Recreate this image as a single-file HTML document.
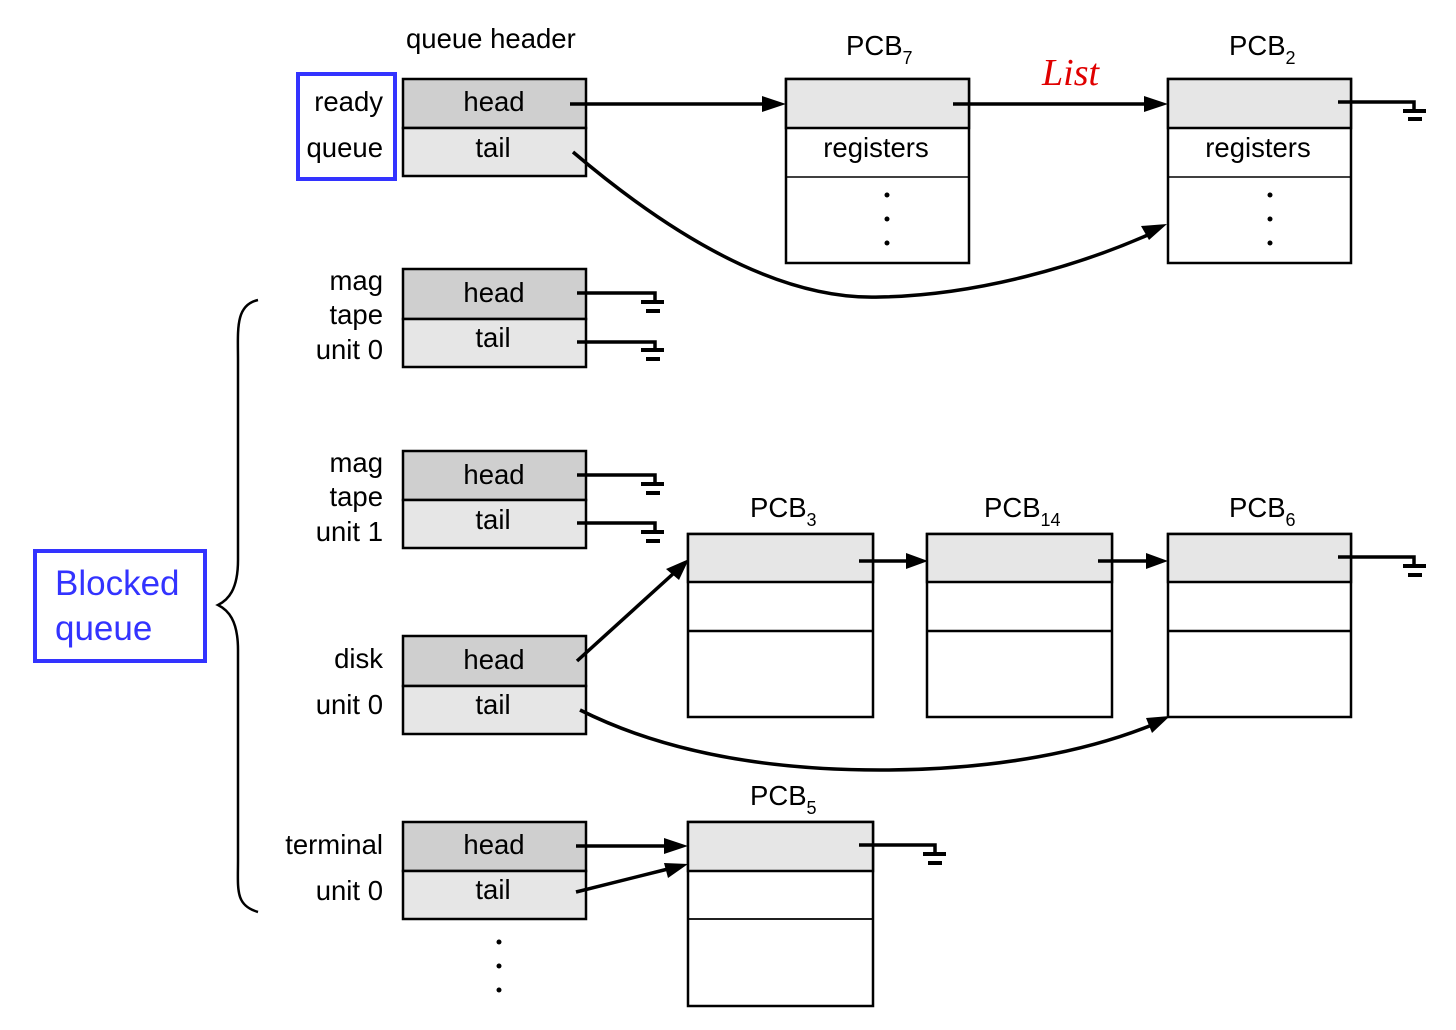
<!DOCTYPE html>
<html><head><meta charset="utf-8"><style>
html,body{margin:0;padding:0;background:#fff;}
svg{display:block;}
text{font-family:"Liberation Sans",sans-serif;font-size:27.5px;fill:#000;}
</style></head><body>
<svg width="1456" height="1030" viewBox="0 0 1456 1030" xmlns="http://www.w3.org/2000/svg">
<g stroke="#000" stroke-width="2.5">
<rect x="403" y="79" width="183" height="49" fill="#cfcfcf"/>
<rect x="403" y="128" width="183" height="48" fill="#e6e6e6"/>
<rect x="403" y="269" width="183" height="50" fill="#cfcfcf"/>
<rect x="403" y="319" width="183" height="48" fill="#e6e6e6"/>
<rect x="403" y="451" width="183" height="49" fill="#cfcfcf"/>
<rect x="403" y="500" width="183" height="48" fill="#e6e6e6"/>
<rect x="403" y="636" width="183" height="50" fill="#cfcfcf"/>
<rect x="403" y="686" width="183" height="48" fill="#e6e6e6"/>
<rect x="403" y="822" width="183" height="49" fill="#cfcfcf"/>
<rect x="403" y="871" width="183" height="48" fill="#e6e6e6"/>
<rect x="786" y="79" width="183" height="184" fill="#fff"/><rect x="786" y="79" width="183" height="49" fill="#e6e6e6"/><line x1="786" y1="177" x2="969" y2="177" stroke-width="1.5"/>
<rect x="1168" y="79" width="183" height="184" fill="#fff"/><rect x="1168" y="79" width="183" height="49" fill="#e6e6e6"/><line x1="1168" y1="177" x2="1351" y2="177" stroke-width="1.5"/>
<rect x="688" y="534" width="185" height="183" fill="#fff"/><rect x="688" y="534" width="185" height="48" fill="#e6e6e6"/><line x1="688" y1="631" x2="873" y2="631"/>
<rect x="927" y="534" width="185" height="183" fill="#fff"/><rect x="927" y="534" width="185" height="48" fill="#e6e6e6"/><line x1="927" y1="631" x2="1112" y2="631"/>
<rect x="1168" y="534" width="183" height="183" fill="#fff"/><rect x="1168" y="534" width="183" height="48" fill="#e6e6e6"/><line x1="1168" y1="631" x2="1351" y2="631"/>
<rect x="688" y="822" width="185" height="184" fill="#fff"/><rect x="688" y="822" width="185" height="49" fill="#e6e6e6"/><line x1="688" y1="919" x2="873" y2="919" stroke-width="1.8"/>
</g>
<g stroke="#000" stroke-width="3.5" fill="none">
<line x1="570" y1="104" x2="766" y2="104"/>
<line x1="953" y1="104" x2="1148" y2="104"/>
<path d="M573 152 C700 260 800 300 880 297 C980 295 1080 265 1150 234"/>
<line x1="859" y1="561" x2="910" y2="561"/>
<line x1="1098" y1="561" x2="1150" y2="561"/>
<line x1="577" y1="661" x2="674" y2="573"/>
<path d="M580 710 C660 750 760 770 880 770 C1000 770 1090 750 1152 725"/>
<line x1="576" y1="846" x2="670" y2="846"/>
<line x1="576" y1="892" x2="668" y2="869"/>
<path d="M577 293 H655 V302 M577 342 H655 V350 M577 475 H655 V484 M577 523 H655 V532 M1338 102 H1414 V110 M1338 557 H1414 V565 M859 845 H935 V853"/>
</g>
<g fill="#000">
<polygon points="786,104 762,96 762,112"/>
<polygon points="1168,104 1144,96 1144,112"/>
<polygon points="1167,224 1141,226 1149,240"/>
<polygon points="928,561 906,553 906,569"/>
<polygon points="1168,561 1146,553 1146,569"/>
<polygon points="689,559 666,569 679,580"/>
<polygon points="1170,716 1146,718 1152,733"/>
<polygon points="688,846 664,838 664,854"/>
<polygon points="688,864 664,863 668,878"/>
<rect x="641" y="300" width="23" height="4"/><rect x="646" y="309" width="14" height="4"/>
<rect x="641" y="348" width="23" height="4"/><rect x="646" y="357" width="14" height="4"/>
<rect x="641" y="482" width="23" height="4"/><rect x="646" y="491" width="14" height="4"/>
<rect x="641" y="530" width="23" height="4"/><rect x="646" y="539" width="14" height="4"/>
<rect x="1403" y="109" width="23" height="4"/><rect x="1408" y="117" width="14" height="4"/>
<rect x="1403" y="564" width="23" height="4"/><rect x="1408" y="573" width="14" height="4"/>
<rect x="923" y="852" width="23" height="4"/><rect x="928" y="861" width="14" height="4"/>
<circle cx="887" cy="195" r="2.5"/><circle cx="887" cy="219" r="2.5"/><circle cx="887" cy="243" r="2.5"/>
<circle cx="1270" cy="195" r="2.5"/><circle cx="1270" cy="219" r="2.5"/><circle cx="1270" cy="243" r="2.5"/>
<circle cx="499" cy="942" r="2.5"/><circle cx="499" cy="966" r="2.5"/><circle cx="499" cy="990" r="2.5"/>
</g>
<path d="M258 300 C235 305 238 330 238 360 V560 C238 590 228 600 218 605 C228 610 238 620 238 650 V860 C238 890 235 905 258 912" stroke="#000" stroke-width="2.5" fill="none"/>
<rect x="298" y="74" width="97" height="105" stroke="#3333ff" stroke-width="4" fill="none"/>
<rect x="35" y="551" width="170" height="110" stroke="#3333ff" stroke-width="4" fill="none"/>
<text x="55" y="595" style="fill:#3333ff;font-size:35px">Blocked</text>
<text x="55" y="640" style="fill:#3333ff;font-size:35px">queue</text>
<text x="406" y="48">queue header</text>
<text x="383" y="111" text-anchor="end">ready</text>
<text x="383" y="157" text-anchor="end">queue</text>
<g text-anchor="middle">
<text x="494" y="111">head</text><text x="493" y="157">tail</text>
<text x="494" y="302">head</text><text x="493" y="347">tail</text>
<text x="494" y="484">head</text><text x="493" y="529">tail</text>
<text x="494" y="669">head</text><text x="493" y="714">tail</text>
<text x="494" y="854">head</text><text x="493" y="899">tail</text>
<text x="876" y="157">registers</text>
<text x="1258" y="157">registers</text>
</g>
<g text-anchor="end">
<text x="383" y="290">mag</text><text x="383" y="324">tape</text><text x="383" y="359">unit 0</text>
<text x="383" y="472">mag</text><text x="383" y="506">tape</text><text x="383" y="541">unit 1</text>
<text x="383" y="668">disk</text><text x="383" y="714">unit 0</text>
<text x="383" y="854">terminal</text><text x="383" y="900">unit 0</text>
</g>
<text x="846" y="55">PCB<tspan font-size="18" dy="9">7</tspan></text>
<text x="1229" y="55">PCB<tspan font-size="18" dy="9">2</tspan></text>
<text x="750" y="517">PCB<tspan font-size="18" dy="9">3</tspan></text>
<text x="984" y="517">PCB<tspan font-size="18" dy="9">14</tspan></text>
<text x="1229" y="517">PCB<tspan font-size="18" dy="9">6</tspan></text>
<text x="750" y="805">PCB<tspan font-size="18" dy="9">5</tspan></text>
<text x="1042" y="85" style="font-family:'Liberation Serif',serif;font-style:italic;font-size:38px;fill:#e00000">List</text>
</svg>
</body></html>
